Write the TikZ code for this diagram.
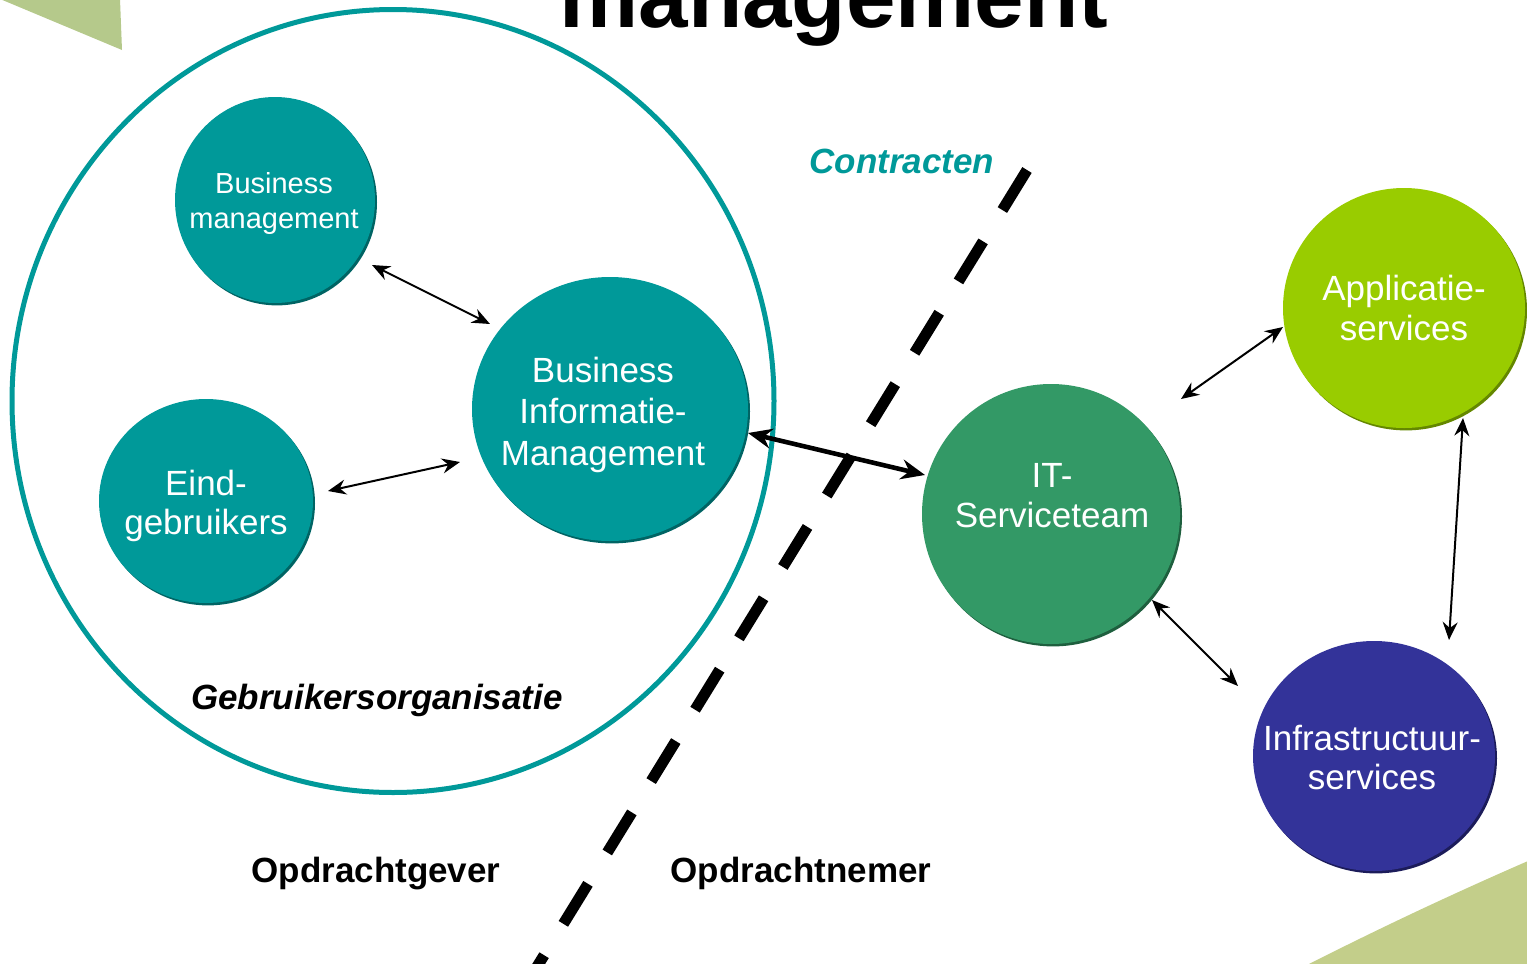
\documentclass[tikz,border=0pt]{standalone}
\usepackage{fontspec}
\setmainfont{Liberation Sans}
\usetikzlibrary{shapes.geometric,arrows.meta,shadows}
\definecolor{teal1}{RGB}{0,153,153}
\definecolor{teal2}{RGB}{0,100,100}
\definecolor{itg}{RGB}{51,153,102}
\definecolor{itg2}{RGB}{30,95,62}
\definecolor{appg}{RGB}{153,204,0}
\definecolor{appg2}{RGB}{100,135,0}
\definecolor{infb}{RGB}{51,51,153}
\definecolor{infb2}{RGB}{28,28,90}
\definecolor{tri1}{RGB}{181,201,139}
\definecolor{tri2}{RGB}{195,206,138}
\tikzset{
  blob/.style n args={2}{ellipse, inner sep=0pt, fill=#1,
    general shadow={fill=#2, shadow xshift=1pt, shadow yshift=-1.2pt}},
  lbl/.style={text=white, font=\fontsize{17.5}{20}\selectfont, align=center, inner sep=0pt, anchor=base},
  blk/.style={text=black, font=\fontsize{17.5}{20}\selectfont\bfseries, inner sep=0pt, anchor=base},
  arr/.style={{Stealth[length=9pt,width=7.5pt,inset=3pt]}-{Stealth[length=9pt,width=7.5pt,inset=3pt]}, line width=1pt, black},
  arrthick/.style={{Stealth[length=12pt,width=10pt,inset=4pt]}-{Stealth[length=12pt,width=10pt,inset=4pt]}, line width=2.3pt, black},
  dashline/.style={line width=5.5pt, dash pattern=on 23.5pt off 18.4pt, line cap=butt, black}
}
\begin{document}
\begin{tikzpicture}[x=0.5pt,y=-0.5pt]
\useasboundingbox (0,0) rectangle (1527,964);
\clip (0,0) rectangle (1527,964);
% background decorations
\fill[tri1] (0,-1) -- (120,-1) -- (122,50) -- cycle;
\fill[tri2] (1307,965) .. controls (1380,928) and (1450,895) .. (1528,861) -- (1528,965) -- cycle;
% title
\node[inner sep=0pt, anchor=base, font=\fontsize{44.5}{50}\selectfont\bfseries] (title) at (834,27) {management};
% organisation
\node[ellipse, draw=teal1, line width=2.5pt, minimum width=381pt, minimum height=391.5pt, inner sep=0pt] (org) at (393,401) {};
% dashed boundary
\coordinate (d1) at (1027,170);
\coordinate (d2) at (503,1022);
\draw[dashline] (d1) -- (d2);
% circles
\node[blob={teal1}{teal2}, minimum width=100pt, minimum height=103pt] (bm) at (275,200) {};
\node[blob={teal1}{teal2}, minimum width=138pt, minimum height=132pt] (bim) at (610,409) {};
\node[blob={teal1}{teal2}, minimum width=107pt, minimum height=102pt] (eind) at (206,501) {};
\node[blob={itg}{itg2}, minimum width=129pt, minimum height=130pt] (it) at (1051,514) {};
\node[blob={appg}{appg2}, minimum width=121pt, minimum height=120pt] (app) at (1404,308) {};
\node[blob={infb}{infb2}, minimum width=121pt, minimum height=115pt] (inf) at (1374,756) {};
% labels (anchor=base is the baseline of the last line)
\node[lbl, font=\fontsize{14.5}{17.5}\selectfont] (bmt) at (274,228) {Business\\management};
\node[lbl, font=\fontsize{17.5}{20.75}\selectfont] (bimt) at (603,465) {Business\\Informatie-\\Management};
\node[lbl, font=\fontsize{17.5}{19.25}\selectfont] (eindt) at (206,534) {Eind-\\gebruikers};
\node[lbl] (itt) at (1052,527) {IT-\\Serviceteam};
\node[lbl] (appt) at (1404,340) {Applicatie-\\services};
\node[lbl, font=\fontsize{17.5}{19.5}\selectfont] (inft) at (1372,789) {Infrastructuur-\\services};
\node[blk, font=\fontsize{17.5}{20}\selectfont\bfseries\itshape] (orgt) at (377,709) {Gebruikersorganisatie};
\node[blk, text=teal1, font=\fontsize{17.5}{20}\selectfont\bfseries\itshape] (contr) at (902,173) {Contracten};
\node[blk] (gever) at (376,882) {Opdrachtgever};
\node[blk] (nemer) at (801,882) {Opdrachtnemer};
% connectors
\draw[arr] ([shift={(97,65)}]bm.center) -- ([shift={(-120,-85)}]bim.center);
\draw[arr] ([shift={(122,-10)}]eind.center) -- ([shift={(-150,53)}]bim.center);
\draw[arrthick] ([shift={(138,24)}]bim.center) -- ([shift={(-126,-39)}]it.center);
\draw[arr] ([shift={(130,-115)}]it.center) -- ([shift={(-121,19)}]app.center);
\draw[arr] ([shift={(101,86)}]it.center) -- ([shift={(-136,-70)}]inf.center);
\draw[arr] ([shift={(59,110)}]app.center) -- ([shift={(75,-116)}]inf.center);
\end{tikzpicture}
\end{document}
